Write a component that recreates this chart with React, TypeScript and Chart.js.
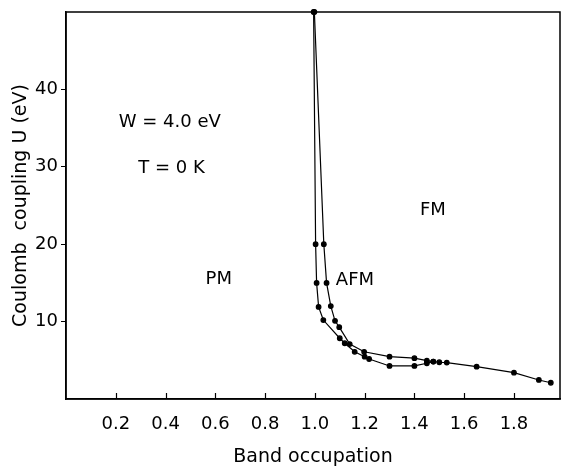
import React, { useEffect, useRef } from "react";
import { Chart, registerables } from "chart.js";

Chart.register(...registerables);

// Left boundary (PM / AFM) — band occupation vs U (eV)
const LEFT_X = [0.995, 1.003, 1.007, 1.015, 1.034, 1.1, 1.12, 1.16, 1.2, 1.218, 1.3, 1.4, 1.45, 1.476, 1.5, 1.53, 1.65, 1.8, 1.9, 1.948];
const LEFT_U = [50, 20, 15, 11.9, 10.2, 7.85, 7.2, 6.1, 5.47, 5.17, 4.27, 4.27, 4.62, 4.83, 4.75, 4.7, 4.18, 3.4, 2.46, 2.1];

// Right boundary (AFM / FM)
const RIGHT_X = [0.998, 1.036, 1.047, 1.064, 1.081, 1.098, 1.14, 1.198, 1.3, 1.4, 1.45, 1.476];
const RIGHT_U = [50, 20, 15, 12.0, 10.1, 9.28, 7.1, 6.1, 5.47, 5.27, 4.95, 4.83];

const X_TICKS = [0.2, 0.4, 0.6, 0.8, 1.0, 1.2, 1.4, 1.6, 1.8];
const Y_TICKS = [10, 20, 30, 40];

const TEXTS = ["W = 4.0 eV", "T = 0 K", "FM", "PM", "AFM"];
const TEXT_X = [0.417, 0.424, 1.474, 0.614, 1.161];
const TEXT_U = [35.8, 29.8, 24.4, 15.4, 15.3];

const FONT = "'DejaVu Sans', sans-serif";

export default function App() {
  const ref = useRef<HTMLCanvasElement | null>(null);

  useEffect(() => {
    if (!ref.current) return;

    const overlay = {
      id: "overlay",
      afterDraw(chart: any) {
        const { ctx, chartArea, scales } = chart;
        const xs = scales.x;
        const ys = scales.y;
        ctx.save();
        ctx.strokeStyle = "#000";
        ctx.lineWidth = 1.5;
        // box
        ctx.strokeRect(chartArea.left, chartArea.top, chartArea.right - chartArea.left, chartArea.bottom - chartArea.top);
        // inward x ticks
        ctx.lineWidth = 1.2;
        X_TICKS.forEach((v) => {
          const px = Math.round(xs.getPixelForValue(v)) + 0.5;
          ctx.beginPath();
          ctx.moveTo(px, chartArea.bottom);
          ctx.lineTo(px, chartArea.bottom - 6);
          ctx.stroke();
        });
        // annotations
        ctx.fillStyle = "#000";
        ctx.font = `18px ${FONT}`;
        ctx.textAlign = "center";
        ctx.textBaseline = "middle";
        TEXTS.forEach((t, i) => {
          ctx.fillText(t, xs.getPixelForValue(TEXT_X[i]), ys.getPixelForValue(TEXT_U[i]));
        });
        ctx.restore();
      },
    };

    const chart = new Chart(ref.current, {
      type: "line",
      data: {
        datasets: [
          {
            data: LEFT_X.map((x, i) => ({ x, y: LEFT_U[i] })),
            borderColor: "#000",
            backgroundColor: "#000",
            borderWidth: 1.2,
            pointRadius: 2.3,
            pointHoverRadius: 2.3,
            tension: 0,
            clip: false as any,
          },
          {
            data: RIGHT_X.map((x, i) => ({ x, y: RIGHT_U[i] })),
            borderColor: "#000",
            backgroundColor: "#000",
            borderWidth: 1.2,
            pointRadius: 2.3,
            pointHoverRadius: 2.3,
            tension: 0,
            clip: false as any,
          },
        ],
      },
      options: {
        animation: false,
        responsive: false,
        events: [],
        layout: { autoPadding: false, padding: { top: 12, right: 1, left: 0, bottom: 0 } },
        plugins: { legend: { display: false }, tooltip: { enabled: false } },
        scales: {
          x: {
            type: "linear",
            min: 0,
            max: 1.985,
            afterBuildTicks: (s: any) => {
              s.ticks = X_TICKS.map((v) => ({ value: v }));
            },
            afterFit: (s: any) => {
              s.height = 69;
              s.paddingLeft = 0;
              s.paddingRight = 0;
            },
            grid: { display: true, drawOnChartArea: false, drawTicks: false },
            border: { display: true, color: "#000", width: 1.5 },
            ticks: {
              color: "#000",
              font: { family: FONT, size: 18 },
              padding: 15,
              maxRotation: 0,
              autoSkip: false,
              callback: (v: any) => Number(v).toFixed(1),
            },
            title: {
              display: true,
              text: "Band occupation",
              color: "#000",
              font: { family: FONT, size: 19 },
              padding: { top: 0, bottom: 0 },
            },
          },
          y: {
            type: "linear",
            min: 0,
            max: 50,
            afterBuildTicks: (s: any) => {
              s.ticks = Y_TICKS.map((v) => ({ value: v }));
            },
            afterFit: (s: any) => {
              s.width = 66;
              s.paddingTop = 0;
              s.paddingBottom = 0;
            },
            grid: { display: true, drawOnChartArea: false, drawTicks: true, tickLength: 5, color: "#000" },
            border: { display: true, color: "#000", width: 1.5 },
            ticks: {
              color: "#000",
              font: { family: FONT, size: 18 },
              padding: 3,
              autoSkip: false,
            },
            title: {
              display: true,
              text: "Coulomb  coupling U (eV)",
              color: "#000",
              font: { family: FONT, size: 19 },
              padding: { top: 10, bottom: 0 },
            },
          },
        },
      },
      plugins: [overlay],
    });

    return () => chart.destroy();
  }, []);

  return (
    <div style={{ position: "fixed", left: 0, top: 0, width: 561, height: 468, background: "#fff" }}>
      <canvas ref={ref} width={561} height={468} style={{ display: "block" }} />
    </div>
  );
}
